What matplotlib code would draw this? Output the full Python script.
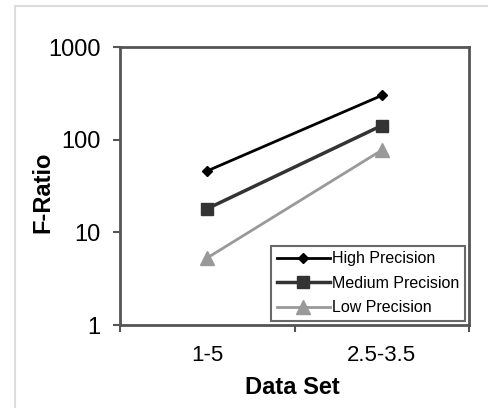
import matplotlib
matplotlib.use("Agg")
import matplotlib.pyplot as plt
from matplotlib.patches import Rectangle

plt.rcParams['font.family'] = ['Liberation Sans', 'DejaVu Sans']

categories = ["1-5", "2.5-3.5"]
high = [46, 300]
medium = [18, 142]
low = [5.3, 77]

fig = plt.figure(figsize=(4.88, 4.08), dpi=100)
# light outer frame like the source image
fig.patches.append(Rectangle((15 / 488, -0.01), 1.0, 1 - 6 / 408 + 0.01, transform=fig.transFigure,
                             fill=False, edgecolor='#dddddd', linewidth=1.5))
ax = fig.add_axes([120 / 488, 1 - 325 / 408, 349 / 488, 278 / 408])

x = range(len(categories))
ax.plot(x, high, color='black', lw=2, marker='D', markersize=5, label='High Precision')
ax.plot(x, medium, color='#333333', lw=2.5, marker='s', markersize=9, label='Medium Precision')
ax.plot(x, low, color='#999999', lw=2, marker='^', markersize=10, label='Low Precision')

ax.set_yscale('log')
ax.set_ylim(1, 1000)
ax.set_yticks([1, 10, 100, 1000])
ax.set_yticklabels(['1', '10', '100', '1000'])
ax.minorticks_off()
ax.set_xlim(-0.5, 1.5)
ax.set_xticks([-0.5, 0.5, 1.5])
ax.set_xticklabels([])
for i, c in enumerate(categories):
    ax.text(i, -0.11, c, transform=ax.get_xaxis_transform(), ha='center', va='center', fontsize=16)

ax.tick_params(axis='y', direction='out', length=5, width=1.5, color='#555555', labelsize=17, pad=9)
ax.tick_params(axis='x', direction='out', length=5, width=1.5, color='#555555')
for s in ax.spines.values():
    s.set_color('#555555')
    s.set_linewidth(2)

fig.text(292 / 488, 1 - 387 / 408, 'Data Set', ha='center', va='center', fontsize=17, fontweight='bold')
fig.text(43 / 488, 1 - 192 / 408, 'F-Ratio', ha='center', va='center', rotation=90,
         fontsize=17, fontweight='bold')

leg = ax.legend(loc='lower right', fontsize=11.5, frameon=True, fancybox=False,
                handlelength=3.3, borderpad=0.35, labelspacing=0.6, handletextpad=0.15,
                borderaxespad=0.25)
leg.get_frame().set_edgecolor('#444444')
leg.get_frame().set_linewidth(1.5)

fig.savefig('out.png', dpi=100)
